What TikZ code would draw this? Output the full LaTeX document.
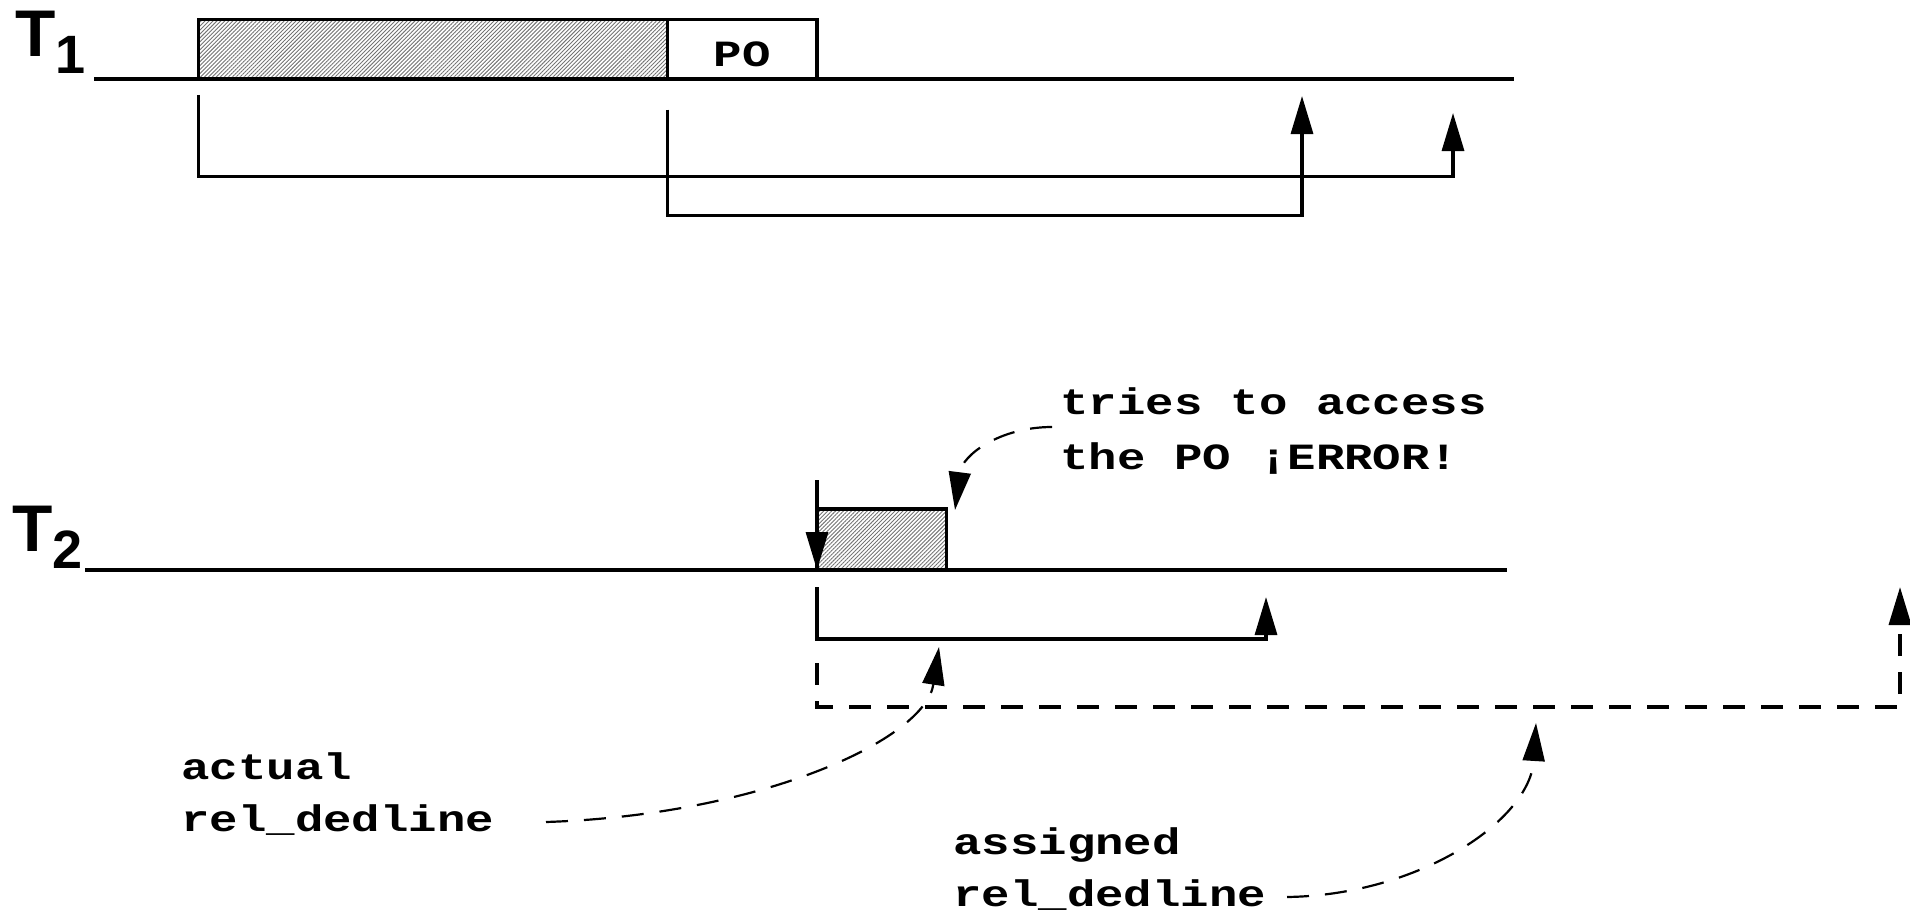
\documentclass[tikz,border=0pt]{standalone}
\usepackage{fontspec}
\newfontfamily\labfont{Liberation Sans}
\newfontfamily\codefont{Liberation Mono}
\usetikzlibrary{arrows.meta,patterns.meta}
\newcommand\widen[1]{\scalebox{1.28}[1]{#1}}
\tikzset{
  line/.style={line width=1.6pt},
  tip/.style={-{Triangle[length=19pt,width=11pt]}},
  bracketdash/.style={line width=1.8pt, dash pattern=on 11pt off 8pt},
  note/.style={line width=1.1pt, dash pattern=on 11pt off 8pt},
  hatch/.style={pattern={Lines[angle=45,distance=1.4pt,line width=0.45pt]},pattern color=black!55},
  code/.style={font=\codefont\bfseries\fontsize{18.5}{27.5}\selectfont, inner sep=0pt},
  tlabel/.style={font=\labfont\bfseries\fontsize{33}{33}\selectfont, inner sep=0pt, anchor=base west},
}
\begin{document}
\begin{tikzpicture}[x=0.5pt,y=-0.5pt]
\useasboundingbox (0,0) rectangle (1910,915);
% ---------- T1 ----------
\node[tlabel] (t1) at (15,57) {T\raisebox{-8.5pt}{\fontsize{27}{27}\selectfont 1}};
\coordinate (t1s) at (94,79);
\coordinate (t1e) at (1514,79);
\coordinate (b1a) at (198.5,19.5);
\coordinate (b1b) at (667.5,79);
\coordinate (poa) at (667.5,19.5);
\coordinate (pob) at (817,79);
\fill[hatch] (b1a) rectangle (b1b);
\draw[line] (b1a) rectangle (b1b);
\draw[line] (poa) rectangle (pob);
\node[code, anchor=base] (po) at (742,67) {\widen{PO}};
\draw[line] (t1s) -- (t1e);
\coordinate (aS) at (198.5,95);
\coordinate (aE) at (1453,113);
\coordinate (bS) at (667.5,109.6);
\coordinate (bE) at (1302,96);
\draw[line,tip] (aS) -- ++(0,81.6) -| (aE);
\draw[line,tip] (bS) -- ++(0,106) -| (bE);
% ---------- T2 ----------
\node[tlabel] (t2) at (12,551) {T\raisebox{-8.5pt}{\fontsize{27}{27}\selectfont 2}};
\coordinate (t2s) at (85,570);
\coordinate (t2e) at (1507,570);
\coordinate (b2a) at (817,509);
\coordinate (b2b) at (946.5,570);
\fill[hatch] (b2a) rectangle (b2b);
\draw[line] (b2a) rectangle (b2b);
\draw[line] (t2s) -- (t2e);
\coordinate (dS) at (817,480);
\coordinate (dE) at (817,570);
\draw[line,tip] (dS) -- (dE);
\coordinate (sS) at (817,587);
\coordinate (sE) at (1266,597);
\draw[line,tip] (sS) -- ++(0,52) -| (sE);
\coordinate (qS) at (817,663);
\coordinate (qE) at (1900,587);
\draw[bracketdash,tip] (qS) -- ++(0,44) -| (qE);
% ---------- texts ----------
\node[code,anchor=base west] (tries1) at (1060,414) {\widen{tries to access}};
\node[code,anchor=base west] (tries2) at (1060,469) {\widen{the PO ¡ERROR!}};
\node[code,anchor=base west] (act1) at (181,779) {\widen{actual}};
\node[code,anchor=base west] (act2) at (181,831) {\widen{rel\_dedline}};
\node[code,anchor=base west] (asg1) at (953,854) {\widen{assigned}};
\node[code,anchor=base west] (asg2) at (953,906) {\widen{rel\_dedline}};
% ---------- curved notes ----------
\coordinate (c1s) at (1052,427);
\coordinate (c1e) at (955,510);
\coordinate (c2s) at (546,822);
\coordinate (c2e) at (939,647);
\coordinate (c3s) at (1287,897);
\coordinate (c3e) at (1536,723);
\draw[note,tip] (c1s) .. controls (1000,427) and (962,455) .. (c1e);
\draw[note,tip] (c2s) .. controls (760,815) and (925,740) .. (c2e);
\draw[note,tip] (c3s) .. controls (1420,895) and (1530,820) .. (c3e);
\end{tikzpicture}
\end{document}
